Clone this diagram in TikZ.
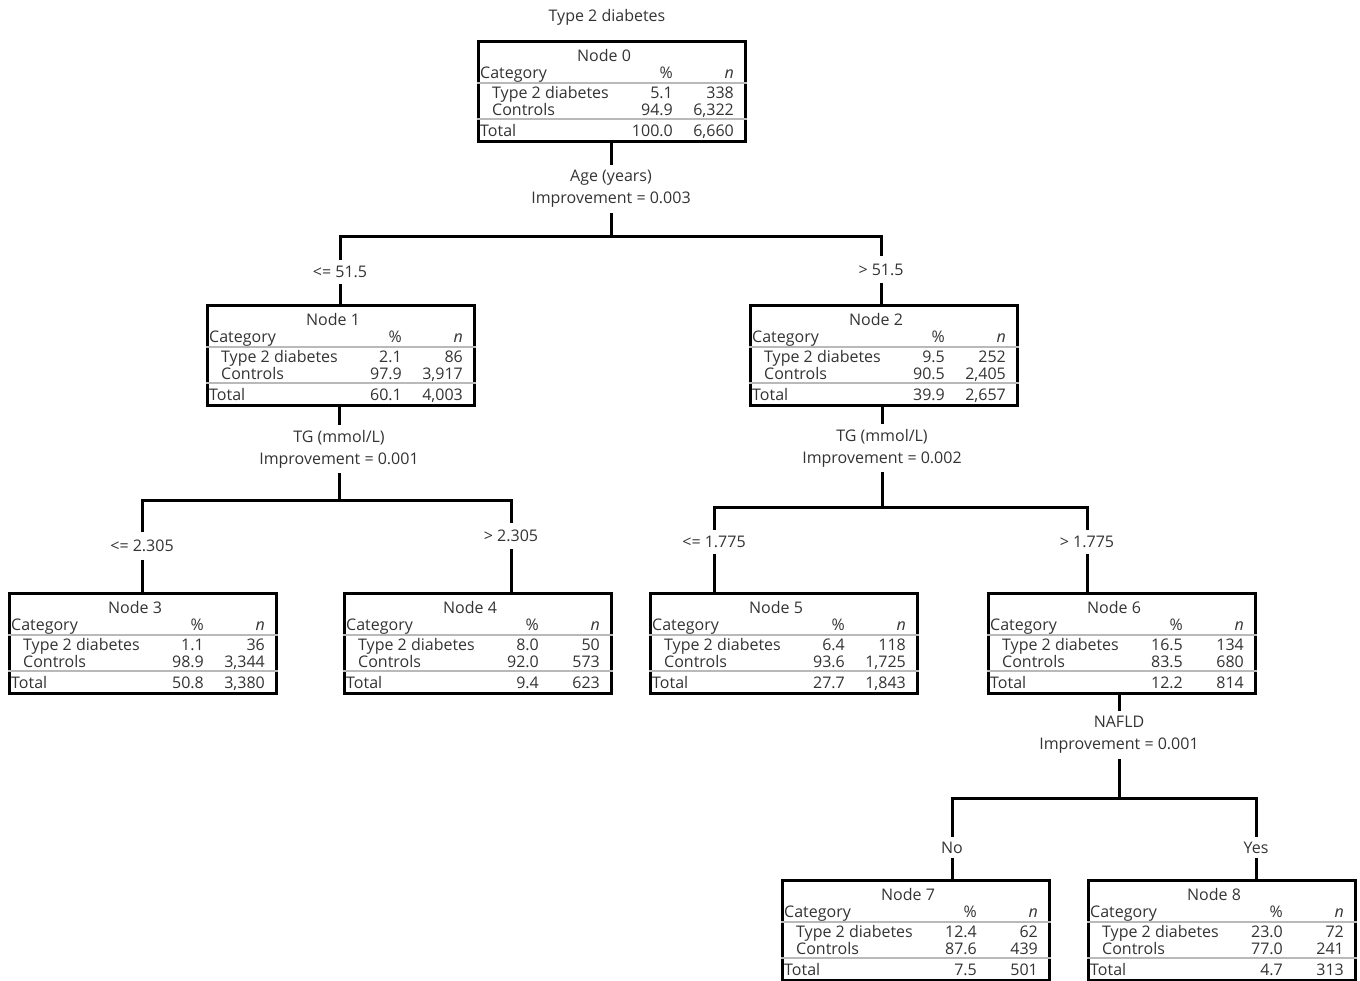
\documentclass[tikz,border=0pt]{standalone}
\usepackage{fontspec}
\setmainfont{Open Sans}
\begin{document}
\begin{tikzpicture}[x=1pt,y=-1pt,
  font=\fontsize{16}{22}\selectfont,
  tbox/.style={draw=black, line width=3pt, anchor=north west, minimum width=267pt, minimum height=100pt, inner sep=0pt},
  tt/.style={inner sep=0pt, text=black!80},
  sepa/.style={draw=gray!55, line width=1.5pt},
  sepb/.style={draw=gray!55, line width=2.2pt},
  conn/.style={draw=black, line width=3pt, line join=miter},
  split/.style={inner sep=0pt, align=center, text=black!80, minimum height=48pt},
  brl/.style={inner sep=0pt, text=black!80}]
\useasboundingbox (0,0) rectangle (1360,980);

\newcommand\tnode[9]{%
  \node[tbox] (#1) at (#2) {};
  \draw[sepa] ([yshift=-43pt]#1.north west) -- ([yshift=-43pt]#1.north east);
  \draw[sepb] ([yshift=-79pt]#1.north west) -- ([yshift=-79pt]#1.north east);
  \node[tt, anchor=base] (#1-h) at ([shift={(127pt,-21pt)}]#1.north west) {Node #3};
  \node[tt, anchor=base west] (#1-c) at ([shift={(3pt,-38pt)}]#1.north west) {Category};
  \node[tt, anchor=base east] (#1-cp) at ([shift={(196pt,-38pt)}]#1.north west) {\%};
  \node[tt, anchor=base east] (#1-cn) at ([shift={(257pt,-38pt)}]#1.north west) {\itshape n};
  \node[tt, anchor=base west] (#1-a) at ([shift={(15pt,-58pt)}]#1.north west) {Type 2 diabetes};
  \node[tt, anchor=base east] (#1-ap) at ([shift={(196pt,-58pt)}]#1.north west) {#4};
  \node[tt, anchor=base east] (#1-an) at ([shift={(257pt,-58pt)}]#1.north west) {#5};
  \node[tt, anchor=base west] (#1-b) at ([shift={(15pt,-75pt)}]#1.north west) {Controls};
  \node[tt, anchor=base east] (#1-bp) at ([shift={(196pt,-75pt)}]#1.north west) {#6};
  \node[tt, anchor=base east] (#1-bn) at ([shift={(257pt,-75pt)}]#1.north west) {#7};
  \node[tt, anchor=base west] (#1-t) at ([shift={(3pt,-96pt)}]#1.north west) {Total};
  \node[tt, anchor=base east] (#1-tp) at ([shift={(196pt,-96pt)}]#1.north west) {#8};
  \node[tt, anchor=base east] (#1-tn) at ([shift={(257pt,-96pt)}]#1.north west) {#9};
}

% title
\node[tt] (title) at (607,17) {Type 2 diabetes};

% tree nodes
\tnode{n0}{477,40}{0}{5.1}{338}{94.9}{6,322}{100.0}{6,660}
\tnode{n1}{206,304}{1}{2.1}{86}{97.9}{3,917}{60.1}{4,003}
\tnode{n2}{749,304}{2}{9.5}{252}{90.5}{2,405}{39.9}{2,657}
\tnode{n3}{8,592}{3}{1.1}{36}{98.9}{3,344}{50.8}{3,380}
\tnode{n4}{343,592}{4}{8.0}{50}{92.0}{573}{9.4}{623}
\tnode{n5}{649,592}{5}{6.4}{118}{93.6}{1,725}{27.7}{1,843}
\tnode{n6}{987,592}{6}{16.5}{134}{83.5}{680}{12.2}{814}
\tnode{n7}{781,879}{7}{12.4}{62}{87.6}{439}{7.5}{501}
\tnode{n8}{1087,879}{8}{23.0}{72}{77.0}{241}{4.7}{313}

% split labels
\node[split] (s0) at (611,189) {Age (years)\\Improvement = 0.003};
\node[split] (s1) at (339,449) {TG (mmol/L)\\Improvement = 0.001};
\node[split] (s2) at (882,448) {TG (mmol/L)\\Improvement = 0.002};
\node[split] (s6) at (1119,735) {NAFLD\\Improvement = 0.001};

% junctions
\coordinate (j0) at (611,236);
\coordinate (j1) at (339,500);
\coordinate (j2) at (882,507);
\coordinate (j6) at (1119,798);

% branch labels
\node[brl, minimum height=24pt] (b1) at (340,272) {<= 51.5};
\node[brl, minimum height=27pt] (b2) at (881,269.5) {> 51.5};
\node[brl, minimum height=27pt] (b3) at (142,546) {<= 2.305};
\node[brl, minimum height=26pt] (b4) at (511,536) {> 2.305};
\node[brl, minimum height=24pt] (b5) at (714,542) {<= 1.775};
\node[brl, minimum height=24pt] (b6) at (1087,542) {> 1.775};
\node[brl, minimum height=21pt] (b7) at (952,847.5) {No};
\node[brl, minimum height=21pt] (b8) at (1256,847.5) {Yes};

% connectors: split 0
\draw[conn] (s0.north |- n0.south) -- (s0.north);
\draw[conn] (s0.south) -- (j0);
\draw[conn] (b1.north) |- (j0) -| (b2.north);
\draw[conn] (b1.south) -- (b1.south |- n1.north);
\draw[conn] (b2.south) -- (b2.south |- n2.north);

% split 1
\draw[conn] (s1.north |- n1.south) -- (s1.north);
\draw[conn] (s1.south) -- (j1);
\draw[conn] (b3.north) |- (j1) -| (b4.north);
\draw[conn] (b3.south) -- (b3.south |- n3.north);
\draw[conn] (b4.south) -- (b4.south |- n4.north);

% split 2
\draw[conn] (s2.north |- n2.south) -- (s2.north);
\draw[conn] (s2.south) -- (j2);
\draw[conn] (b5.north) |- (j2) -| (b6.north);
\draw[conn] (b5.south) -- (b5.south |- n5.north);
\draw[conn] (b6.south) -- (b6.south |- n6.north);

% split 6
\draw[conn] (s6.north |- n6.south) -- (s6.north);
\draw[conn] (s6.south) -- (j6);
\draw[conn] (b7.north) |- (j6) -| (b8.north);
\draw[conn] (b7.south) -- (b7.south |- n7.north);
\draw[conn] (b8.south) -- (b8.south |- n8.north);
\end{tikzpicture}
\end{document}
